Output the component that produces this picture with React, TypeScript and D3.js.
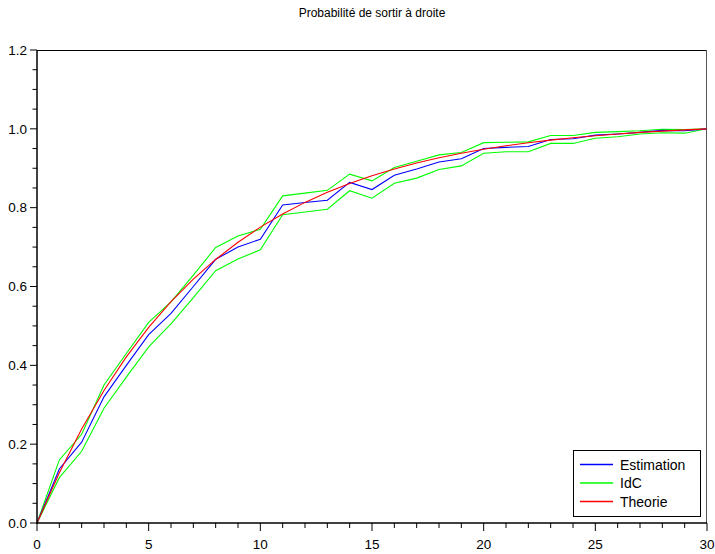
import React from "react";
import * as d3 from "d3";

const steps: number[] = Array.from({ length: 31 }, (_, i) => i);

const estimation: number[] = [
  0, 0.137, 0.205, 0.32, 0.4, 0.478, 0.532, 0.6, 0.669, 0.7, 0.72, 0.807, 0.813,
  0.819, 0.864, 0.846, 0.882, 0.898, 0.916, 0.924, 0.95, 0.953, 0.955, 0.973,
  0.975, 0.984, 0.987, 0.991, 0.996, 0.995, 1.0,
];

const idcUpper: number[] = [
  0, 0.16, 0.225, 0.35, 0.43, 0.509, 0.561, 0.629, 0.699, 0.728, 0.745, 0.83,
  0.837, 0.844, 0.885, 0.868, 0.902, 0.918, 0.934, 0.94, 0.965, 0.966, 0.967,
  0.983, 0.983, 0.991, 0.993, 0.995, 0.999, 0.998, 1.0,
];

const idcLower: number[] = [
  0, 0.115, 0.182, 0.291, 0.37, 0.447, 0.505, 0.572, 0.64, 0.67, 0.693, 0.782,
  0.789, 0.796, 0.843, 0.824, 0.862, 0.875, 0.897, 0.906, 0.938, 0.942, 0.942,
  0.963, 0.963, 0.976, 0.98, 0.987, 0.99, 0.989, 1.0,
];

const theorie: number[] = [
  0, 0.1273, 0.2387, 0.3362, 0.4215, 0.4961, 0.5614, 0.6186, 0.6686, 0.7123,
  0.7506, 0.7841, 0.8134, 0.839, 0.8615, 0.8811, 0.8983, 0.9133, 0.9265, 0.938,
  0.9481, 0.9569, 0.9646, 0.9713, 0.9772, 0.9824, 0.9869, 0.9909, 0.9943,
  0.9974, 1.0,
];

const xMajorTicks: number[] = [0, 5, 10, 15, 20, 25, 30];
const yMajorTicks: number[] = [0, 0.2, 0.4, 0.6, 0.8, 1.0, 1.2];
const legendLabels: string[] = ["Estimation", "IdC", "Theorie"];
const title = "Probabilité de sortir à droite";

export default function App() {
  const W = 715;
  const H = 554;
  const left = 37;
  const right = 707;
  const top = 50;
  const bottom = 523;

  const x = d3.scaleLinear().domain([0, 30]).range([left, right]);
  const y = d3.scaleLinear().domain([0, 1.2]).range([bottom, top]);

  const line = (vals: number[]) =>
    d3
      .line<number>()
      .x((_, i) => x(steps[i]))
      .y((d) => y(d))(vals) as string;

  const xMinor = d3.range(0, 31, 1);
  const yMinor = d3.range(0, 1.2001, 0.05);

  const font = "Liberation Sans, Arial, sans-serif";
  const legendColors = ["#0000ff", "#00ff00", "#ff0000"];
  const legendY = [464.5, 483, 501.5];

  return (
    <svg
      width={W}
      height={H}
      style={{ position: "absolute", left: 0, top: 0, background: "#fff" }}
      fontFamily={font}
    >
      <rect x={0} y={0} width={W} height={H} fill="#fff" />
      <text x={(left + right) / 2} y={17} textAnchor="middle" fontSize={12} fill="#000">
        {title}
      </text>

      {/* frame */}
      <line x1={left} x2={right} y1={top + 0.5} y2={top + 0.5} stroke="#000" strokeWidth={1} />
      <line x1={right - 0.5} x2={right - 0.5} y1={top} y2={bottom} stroke="#555" strokeWidth={1} />

      {/* data lines */}
      <path d={line(idcUpper)} fill="none" stroke="#00ff00" strokeWidth={1.1} />
      <path d={line(idcLower)} fill="none" stroke="#00ff00" strokeWidth={1.1} />
      <path d={line(estimation)} fill="none" stroke="#0000ff" strokeWidth={1.1} />
      <path d={line(theorie)} fill="none" stroke="#ff0000" strokeWidth={1.1} />

      {/* axes */}
      <line x1={left} x2={left} y1={top} y2={bottom + 1} stroke="#000" strokeWidth={1.5} />
      <line x1={left} x2={right} y1={bottom} y2={bottom} stroke="#000" strokeWidth={1.5} />

      {xMinor.map((t) => (
        <line
          key={"xm" + t}
          x1={x(t)}
          x2={x(t)}
          y1={bottom}
          y2={bottom + (t % 5 === 0 ? 8 : 5)}
          stroke="#000"
          strokeWidth={1}
        />
      ))}
      {xMajorTicks.map((t) => (
        <text key={"xl" + t} x={x(t)} y={549} textAnchor="middle" fontSize={13.5} fill="#000">
          {t}
        </text>
      ))}

      {yMinor.map((t, i) => (
        <line
          key={"ym" + i}
          x1={left - (i % 4 === 0 ? 7 : 4.5)}
          x2={left}
          y1={y(t)}
          y2={y(t)}
          stroke="#000"
          strokeWidth={1}
        />
      ))}
      {yMajorTicks.map((t) => (
        <text
          key={"yl" + t}
          x={27}
          y={y(t)}
          dy="0.35em"
          textAnchor="end"
          fontSize={13.5}
          fill="#000"
        >
          {t.toFixed(1)}
        </text>
      ))}

      {/* legend */}
      <rect x={573.5} y={450.5} width={127} height={66} fill="#fff" stroke="#000" strokeWidth={1} />
      {legendLabels.map((lab, i) => (
        <g key={lab}>
          <line
            x1={580}
            x2={613}
            y1={legendY[i]}
            y2={legendY[i]}
            stroke={legendColors[i]}
            strokeWidth={1.5}
          />
          <text x={620} y={legendY[i]} dy="0.36em" fontSize={14} fill="#000">
            {lab}
          </text>
        </g>
      ))}
    </svg>
  );
}
